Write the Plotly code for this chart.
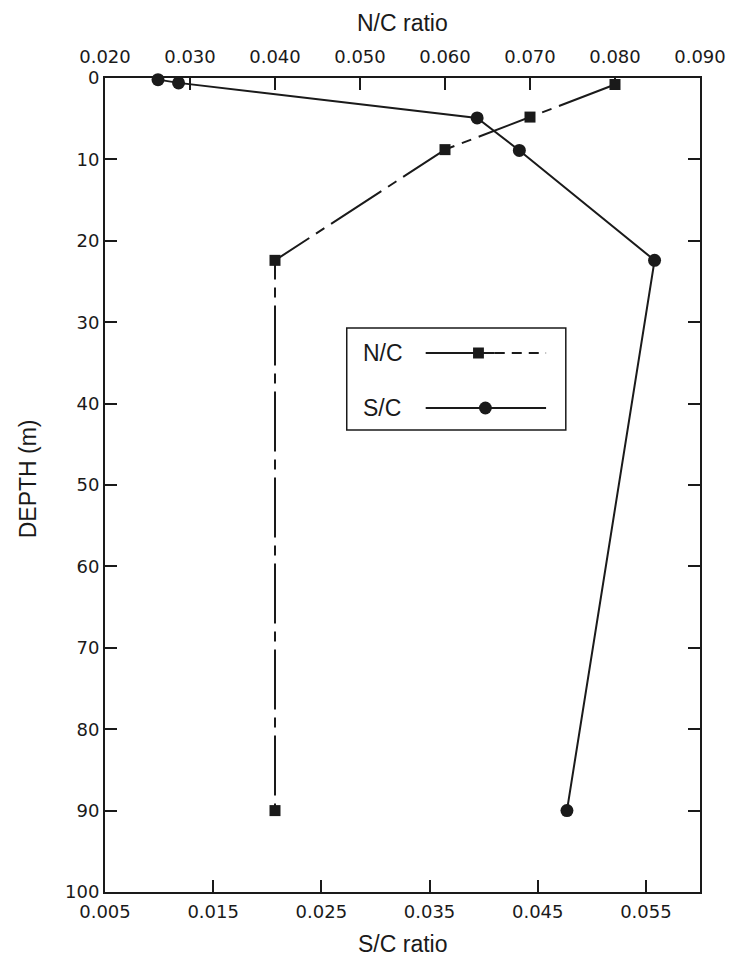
import plotly.graph_objects as go

# ---- data ----
nc_ratio = [0.080, 0.070, 0.060, 0.040, 0.040]
nc_depth = [0.8, 4.8, 8.8, 22.4, 90.0]

sc_ratio = [0.0099, 0.0118, 0.0394, 0.0433, 0.0558, 0.0477]
sc_depth = [0.2, 0.6, 4.9, 8.9, 22.4, 90.0]

depth_ticks = [0, 10, 20, 30, 40, 50, 60, 70, 80, 90, 100]
sc_ticks = [0.005, 0.015, 0.025, 0.035, 0.045, 0.055]
nc_ticks = [0.020, 0.030, 0.040, 0.050, 0.060, 0.070, 0.080, 0.090]

INK = "#1a1a1a"
FONT = "Liberation Sans"
TICKFONT = "DejaVu Sans"

fig = go.Figure()

fig.add_trace(go.Scatter(
    x=nc_ratio, y=nc_depth, xaxis="x2", yaxis="y", name="N/C",
    mode="lines+markers",
    line=dict(color=INK, width=2, dash="60px,8px,10px,8px"),
    marker=dict(symbol="square", size=11, color=INK),
    showlegend=False, cliponaxis=False,
))
fig.add_trace(go.Scatter(
    x=sc_ratio, y=sc_depth, xaxis="x", yaxis="y", name="S/C",
    mode="lines+markers",
    line=dict(color=INK, width=2),
    marker=dict(symbol="circle", size=13, color=INK),
    showlegend=False, cliponaxis=False,
))

tickfont = dict(family=TICKFONT, size=18, color=INK)

fig.update_layout(
    width=738, height=964,
    margin=dict(l=105, r=30, t=78, b=72),
    paper_bgcolor="white", plot_bgcolor="white",
    xaxis=dict(
        range=[0.005, 0.060], tickvals=sc_ticks, tickformat=".3f",
        ticks="inside", ticklen=12, tickwidth=2, tickcolor=INK,
        showline=True, linewidth=2, linecolor=INK, showgrid=False,
        zeroline=False, tickfont=tickfont, side="bottom", ticklabelstandoff=2,
    ),
    xaxis2=dict(
        range=[0.020, 0.090], tickvals=nc_ticks, tickformat=".3f",
        ticks="inside", ticklen=12, tickwidth=2, tickcolor=INK,
        showline=True, linewidth=2, linecolor=INK, showgrid=False,
        zeroline=False, tickfont=tickfont, side="top",
        overlaying="x", anchor="y", ticklabelstandoff=6,
        ticklabeloverflow="allow",
    ),
    yaxis=dict(
        range=[100, 0], tickvals=depth_ticks,
        ticks="inside", ticklen=12, tickwidth=2, tickcolor=INK,
        showline=True, linewidth=2, linecolor=INK, mirror="ticks",
        showgrid=False, zeroline=False, tickfont=tickfont,
    ),
    font=dict(family=FONT, color=INK),
)

# axis titles
fig.add_annotation(text="N/C ratio", xref="paper", yref="paper", x=0.5, y=1.0,
                   yshift=55, showarrow=False, font=dict(family=FONT, size=23, color=INK),
                   yanchor="middle")
fig.add_annotation(text="S/C ratio", xref="paper", yref="paper", x=0.5, y=0.0,
                   yshift=-52, showarrow=False, font=dict(family=FONT, size=23, color=INK),
                   yanchor="middle")
fig.add_annotation(text="DEPTH (m)", xref="paper", yref="paper", x=0.0, y=0.507,
                   xshift=-77, showarrow=False, textangle=-90,
                   font=dict(family=FONT, size=23, color=INK), xanchor="center")

# manual legend (text left of symbol, as in the reference); pixel positions of plot frame
L, R = 105, 708
T, B = 78, 892
def px(xp):
    return (xp - L) / (R - L)
def py(yp):
    return (B - yp) / (B - T)

shapes = [
    dict(type="rect", xref="paper", yref="paper", x0=px(350), x1=px(572),
         y0=py(430), y1=py(328), line=dict(color=INK, width=1.5), fillcolor="white"),
    dict(type="line", xref="paper", yref="paper", x0=px(430), x1=px(500),
         y0=py(353), y1=py(353), line=dict(color=INK, width=2)),
    dict(type="line", xref="paper", yref="paper", x0=px(500), x1=px(552),
         y0=py(353), y1=py(353), line=dict(color=INK, width=2, dash="10px,7px")),
    dict(type="rect", xref="paper", yref="paper", x0=px(478), x1=px(489),
         y0=py(358.5), y1=py(347.5), line=dict(color=INK, width=0), fillcolor=INK),
    dict(type="line", xref="paper", yref="paper", x0=px(430), x1=px(552),
         y0=py(408), y1=py(408), line=dict(color=INK, width=2)),
    dict(type="circle", xref="paper", yref="paper", x0=px(484), x1=px(497),
         y0=py(414.5), y1=py(401.5), line=dict(color=INK, width=0), fillcolor=INK),
]
fig.update_layout(shapes=shapes)
fig.add_annotation(text="N/C", xref="paper", yref="paper", x=px(364), y=py(353),
                   xanchor="left", yanchor="middle", showarrow=False,
                   font=dict(family=FONT, size=23, color=INK))
fig.add_annotation(text="S/C", xref="paper", yref="paper", x=px(364), y=py(408),
                   xanchor="left", yanchor="middle", showarrow=False,
                   font=dict(family=FONT, size=23, color=INK))

# remove the browser's default body margin so the 738x964 figure fills the window
fig.write_html(
    "out.html",
    config={"displayModeBar": False},
    post_script="document.body.style.margin='0';",
)
